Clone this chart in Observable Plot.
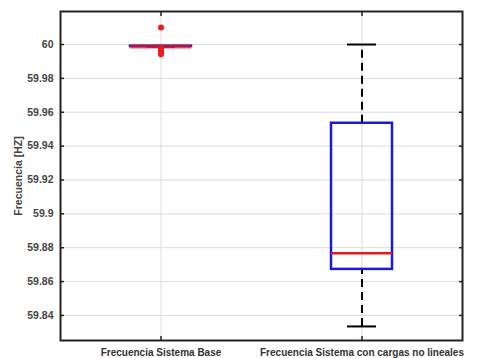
<!DOCTYPE html>
<html>
<head>
<meta charset="utf-8">
<script src="https://cdn.jsdelivr.net/npm/d3@7"></script>
<script src="https://cdn.jsdelivr.net/npm/@observablehq/plot@0.6"></script>
<style>
  body { margin: 0; background: #fff; }
  #chart svg { display: block; }
</style>
</head>
<body>
<div id="chart"></div>
<script>
const categories = ["Frecuencia Sistema Base", "Frecuencia Sistema con cargas no lineales"];
const q1 = [59.9988, 59.8672];
const medians = [59.9989, 59.8768];
const q3 = [59.9990, 59.9535];
const whiskerLow = [59.9988, 59.8335];
const whiskerHigh = [59.9990, 60.0000];
const outlierCategory = ["Frecuencia Sistema Base", "Frecuencia Sistema Base", "Frecuencia Sistema Base", "Frecuencia Sistema Base", "Frecuencia Sistema Base"];
const outlierValues = [60.0101, 59.9978, 59.9966, 59.9954, 59.9943];
const yTicks = [59.84, 59.86, 59.88, 59.9, 59.92, 59.94, 59.96, 59.98, 60];

const boxes = categories.map((c, i) => ({
  cat: c, q1: q1[i], med: medians[i], q3: q3[i], lo: whiskerLow[i], hi: whiskerHigh[i]
}));
const outliers = outlierValues.map((v, i) => ({cat: outlierCategory[i], v}));

const font = "'Liberation Sans', Arial, sans-serif";

const chart = Plot.plot({
  width: 481,
  height: 358,
  marginLeft: 60,
  marginRight: 19,
  marginTop: 11,
  marginBottom: 18,
  style: {fontFamily: font, fontSize: "10.5px", fontWeight: "bold", color: "#444", background: "#fff"},
  x: {type: "band", domain: categories, padding: 0},
  y: {domain: [59.8252, 60.0195], ticks: yTicks},
  marks: [
    Plot.ruleY(yTicks, {stroke: "#dcdcdc", strokeWidth: 1}),
    Plot.ruleX(categories, {stroke: "#dcdcdc", strokeWidth: 1}),
    Plot.axisY(yTicks, {
      tickSize: 0, tickPadding: 7,
      tickFormat: d => String(+d.toFixed(2)),
      label: "Frecuencia [HZ]", labelAnchor: "center", labelArrow: "none", labelOffset: 46,
      fill: "#444"
    }),
    Plot.axisY(yTicks, {tickSize: -4, stroke: "#222", strokeWidth: 1.5, tickFormat: () => "", label: null}),
    Plot.axisY(yTicks, {anchor: "right", tickSize: -4, stroke: "#222", strokeWidth: 1.5, tickFormat: () => "", label: null}),
    Plot.axisX({tickSize: 0, tickPadding: 8, label: null, fill: "#333", fontSize: "10px"}),
    Plot.axisX({tickSize: -4, stroke: "#222", strokeWidth: 1.5, tickFormat: () => "", label: null}),
    Plot.axisX({anchor: "top", tickSize: -4, stroke: "#222", strokeWidth: 1.5, tickFormat: () => "", label: null}),
    // whiskers
    Plot.ruleX(boxes, {x: "cat", y1: "q3", y2: "hi", stroke: "#000", strokeWidth: 2, strokeDasharray: "8,5"}),
    Plot.ruleX(boxes, {x: "cat", y1: "lo", y2: "q1", stroke: "#000", strokeWidth: 2, strokeDasharray: "8,5"}),
    Plot.tickY(boxes, {x: "cat", y: "hi", stroke: "#000", strokeWidth: 2, insetLeft: 86, insetRight: 86}),
    Plot.tickY(boxes, {x: "cat", y: "lo", stroke: "#000", strokeWidth: 2, insetLeft: 86, insetRight: 86}),
    // boxes
    Plot.barY(boxes, {x: "cat", y1: "q1", y2: "q3", fill: "none", stroke: "#1a1adb", strokeWidth: 2.5, insetLeft: 70, insetRight: 70}),
    // outliers
    Plot.dot(outliers, {x: "cat", y: "v", r: 3, fill: "#ee1c1c", stroke: "none"}),
    // medians
    Plot.tickY(boxes, {x: "cat", y: "med", stroke: "#e41a1a",
      strokeWidth: d => (d.q3 - d.q1 < 0.001 ? 4 : 2.5),
      strokeOpacity: d => (d.q3 - d.q1 < 0.001 ? 0.7 : 1), insetLeft: 70, insetRight: 70}),
    Plot.frame({stroke: "#222", strokeWidth: 2})
  ]
});

document.getElementById("chart").appendChild(chart);
</script>
</body>
</html>
